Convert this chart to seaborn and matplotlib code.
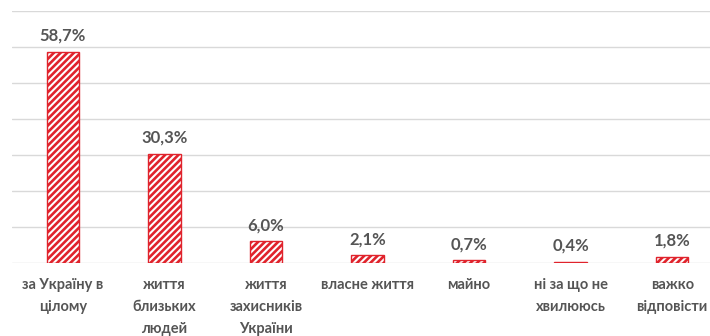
import matplotlib
matplotlib.use("Agg")
import matplotlib.pyplot as plt
import seaborn as sns
import pandas as pd

categories = [
    "за Україну в\nцілому",
    "життя\nблизьких\nлюдей",
    "життя\nзахисників\nУкраїни",
    "власне життя",
    "майно",
    "ні за що не\nхвилююсь",
    "важко\nвідповісти",
]
values = [58.7, 30.3, 6.0, 2.1, 0.7, 0.4, 1.8]
value_labels = ["58,7%", "30,3%", "6,0%", "2,1%", "0,7%", "0,4%", "1,8%"]

df = pd.DataFrame({"category": categories, "value": values})

sns.set_theme(style="white")
plt.rcParams["font.family"] = ["Lato", "Open Sans", "DejaVu Sans"]
plt.rcParams["hatch.color"] = "#e0232c"
plt.rcParams["hatch.linewidth"] = 1.9

text_color = "#555555"
red = "#e0232c"

fig = plt.figure(figsize=(7.1, 3.36), dpi=100)
ax = fig.add_axes([12 / 710, 73 / 336, 711 / 710, 252 / 336])

sns.barplot(data=df, x="category", y="value", ax=ax, width=0.32,
            color="white", edgecolor=red, linewidth=1.0)
for patch in ax.patches:
    patch.set_hatch("/////")
    patch.set_facecolor("white")

ax.set_ylim(0, 70)
ax.set_yticks(range(0, 71, 10))
ax.yaxis.grid(True, color="#d9d9d9", linewidth=1.0)
ax.set_axisbelow(True)
ax.tick_params(axis="y", left=False, labelleft=False)
ax.tick_params(axis="x", bottom=False, pad=5)
for s in ax.spines.values():
    s.set_visible(False)
ax.set_xlabel("")
ax.set_ylabel("")
ax.set_xticks(range(len(categories)))
ax.set_xticklabels(categories, fontsize=10.5, fontweight="bold",
                   color=text_color, linespacing=1.72, va="top")

for i, (v, lab) in enumerate(zip(values, value_labels)):
    ax.annotate(lab, (i, v), xytext=(0, 6), textcoords="offset points",
                ha="center", va="bottom", fontsize=12, fontweight="bold",
                color=text_color)

fig.savefig("out.png", dpi=100)
